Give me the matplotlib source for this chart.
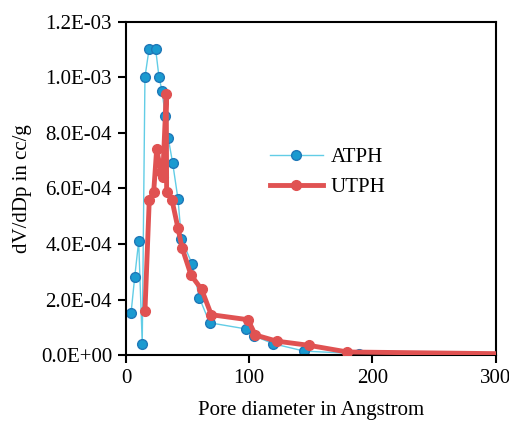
import matplotlib
matplotlib.use('Agg')
import matplotlib.pyplot as plt
from matplotlib.ticker import FuncFormatter

# pore diameter (Angstrom) and dV/dDp (cc/g)
atph_x = [4.1, 7.1, 10.3, 13.2, 15.4, 18.7, 24.1, 26.8, 29.2, 31.9, 34.3, 37.9,
          42.2, 45.0, 53.8, 59.5, 67.9, 97.2, 103.9, 119.3, 144.7, 189.1, 320]
atph_y = [1.51e-4, 2.82e-4, 4.10e-4, 4.2e-5, 1.0e-3, 1.10e-3, 1.10e-3, 1.0e-3,
          9.52e-4, 8.61e-4, 7.81e-4, 6.91e-4, 5.62e-4, 4.18e-4, 3.27e-4, 2.07e-4,
          1.17e-4, 9.5e-5, 7.0e-5, 4.2e-5, 1.5e-5, 6e-6, 4e-6]

utph_x = [15.4, 18.9, 22.5, 24.9, 28.5, 29.8, 32.7, 33.0, 37.3, 42.2, 45.5, 52.8,
          61.4, 69.2, 99.0, 105.0, 122.3, 148.3, 179.6, 320]
utph_y = [1.58e-4, 5.58e-4, 5.88e-4, 7.41e-4, 6.6e-4, 6.42e-4, 9.39e-4, 5.86e-4,
          5.59e-4, 4.57e-4, 3.87e-4, 2.88e-4, 2.37e-4, 1.46e-4, 1.28e-4, 7.3e-5,
          5.1e-5, 3.6e-5, 1.2e-5, 5e-6]

plt.rcParams['font.family'] = ['Liberation Serif', 'DejaVu Serif']

fig = plt.figure(figsize=(5.1, 4.22), dpi=100)
ax = fig.add_axes([0.247, 0.158, 0.725, 0.791])

ax.plot(atph_x, atph_y, color='#62cde6', lw=1, marker='o', ms=7,
        markerfacecolor='#1a9ad0', markeredgecolor='#1f78b8', markeredgewidth=1,
        label='ATPH', zorder=2)
ax.plot(utph_x, utph_y, color='#e05252', lw=3.5, marker='o', ms=7,
        markerfacecolor='#e05252', markeredgecolor='#e05252',
        label='UTPH', zorder=3)

ax.set_xlim(0, 300)
ax.set_ylim(0, 1.2e-3)
ax.set_xticks([0, 100, 200, 300])
ax.set_yticks([0, 2e-4, 4e-4, 6e-4, 8e-4, 1e-3, 1.2e-3])
ax.yaxis.set_major_formatter(FuncFormatter(lambda v, p: '{:.1E}'.format(v)))
ax.tick_params(labelsize=15, width=1.5, length=6, direction='out',
               top=False, right=False, pad=4)
for s in ax.spines.values():
    s.set_linewidth(1.5)

ax.set_xlabel('Pore diameter in Angstrom', fontsize=15, labelpad=9)
ax.set_ylabel('dV/dDp in cc/g', fontsize=15, labelpad=6)

ax.legend(loc='upper left', bbox_to_anchor=(0.34, 0.678), frameon=False,
          fontsize=15, handlelength=2.5, handletextpad=0.4, labelspacing=0.5)

fig.savefig('out.png', dpi=100)
